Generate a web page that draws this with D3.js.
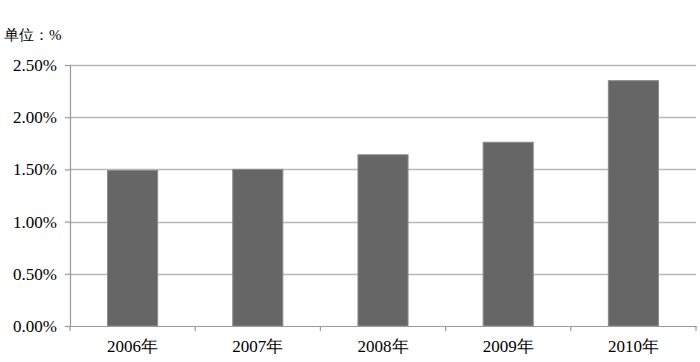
<!DOCTYPE html>
<html lang="zh">
<head>
<meta charset="UTF-8">
<title>单位：%</title>
<script src="https://cdn.jsdelivr.net/npm/d3@7"></script>
<style>
  body { margin: 0; background: #fff; }
</style>
</head>
<body>
<div id="chart"></div>
<script>
// chart data
var years = ["2006年", "2007年", "2008年", "2009年", "2010年"];
var values = [1.49, 1.50, 1.64, 1.76, 2.35];
var yTicks = [0, 0.5, 1.0, 1.5, 2.0, 2.5];

var width = 700, height = 362;
var margin = {top: 65, right: 4, bottom: 36, left: 70};

var svg = d3.select("#chart").append("svg")
    .attr("width", width)
    .attr("height", height);

var x = d3.scaleBand()
    .domain(years)
    .range([margin.left, width - margin.right])
    .paddingInner(0.6)
    .paddingOuter(0.3);

var y = d3.scaleLinear()
    .domain([0, 2.5])
    .range([height - margin.bottom, margin.top]);

// gridlines
svg.append("g")
    .selectAll("line")
    .data(yTicks.slice(1))
    .enter().append("line")
    .attr("x1", margin.left)
    .attr("x2", width - margin.right)
    .attr("y1", function(d) { return Math.round(y(d)) + 0.5; })
    .attr("y2", function(d) { return Math.round(y(d)) + 0.5; })
    .attr("stroke", "#b8b8b8")
    .attr("stroke-width", 1.5);

// bars
svg.append("g")
    .selectAll("rect")
    .data(values)
    .enter().append("rect")
    .attr("x", function(d, i) { return x(years[i]); })
    .attr("y", function(d) { return y(d); })
    .attr("width", x.bandwidth())
    .attr("height", function(d) { return y(0) - y(d); })
    .attr("fill", "#666666")
    .attr("stroke", "#8a8a8a")
    .attr("stroke-width", 1);

// y axis
var yAxis = d3.axisLeft(y)
    .tickValues(yTicks)
    .tickSize(5)
    .tickPadding(8)
    .tickFormat(function(d) { return d.toFixed(2) + "%"; });

var gy = svg.append("g")
    .attr("transform", "translate(" + margin.left + ",0)")
    .call(yAxis);
gy.selectAll("line, path").attr("stroke", "#999").attr("stroke-width", 1.2);
gy.selectAll("text")
    .attr("fill", "#000")
    .style("font-family", "Liberation Serif")
    .style("font-size", "17px");

// x axis with boundary ticks
var xAxis = d3.axisBottom(x).tickSize(0).tickPadding(14);
var gx = svg.append("g")
    .attr("transform", "translate(0," + y(0) + ")")
    .call(xAxis);
gx.select(".domain").attr("stroke", "#999").attr("stroke-width", 1.2);
gx.selectAll("text")
    .attr("fill", "#000")
    .style("font-family", "Liberation Serif")
    .style("font-size", "17px");

var edges = years.map(function(d) { return x(d) - x.step() * x.paddingInner() / 2; });
edges.push(width - margin.right);
edges[0] = margin.left;
gx.selectAll(".edge")
    .data(edges)
    .enter().append("line")
    .attr("x1", function(d) { return d; })
    .attr("x2", function(d) { return d; })
    .attr("y1", 0)
    .attr("y2", 5)
    .attr("stroke", "#999")
    .attr("stroke-width", 1.2);

// unit label
svg.append("text")
    .attr("x", 4)
    .attr("y", 40)
    .style("font-size", "15px")
    .style("font-family", "Liberation Serif")
    .text("单位：%");
</script>
</body>
</html>
